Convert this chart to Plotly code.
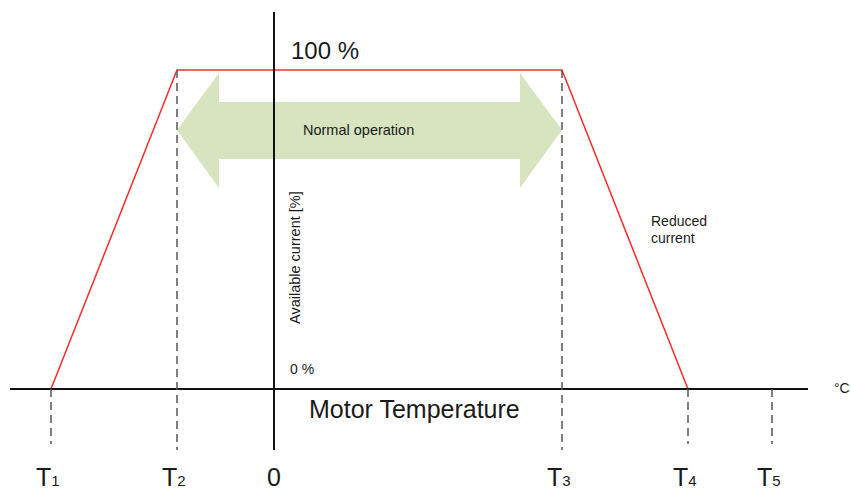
import plotly.graph_objects as go

# Data (schematic units: temperature axis, available current in %)
t_names = ["T", "T", "T", "T", "T"]
t_subs = ["1", "2", "3", "4", "5"]
t_values = [-223, -97, 288, 414, 498]
current_pct = [0, 100, 100, 0, 0]

W, H = 851, 490
X0_PX = 274           # pixel of temperature 0
Y0_PX, Y100_PX = 389, 70
ppu_y = (Y0_PX - Y100_PX) / 100.0


def py(p):  # pixel row -> y data
    return (Y0_PX - p) / ppu_y


xr = [-X0_PX, W - X0_PX]
yr = [py(H), py(0)]

FONT = "Liberation Sans, Arial, sans-serif"
TXT = "#1a1a1a"

fig = go.Figure()

# Green double arrow between T2 and T3
t2, t3 = t_values[1], t_values[2]
head = 42
yc, ys_top, ys_bot, yh_top, yh_bot = py(130), py(102), py(159), py(73), py(188)
ax = [t2, t2 + head, t2 + head, t3 - head, t3 - head, t3, t3 - head, t3 - head, t2 + head, t2 + head, t2]
ay = [yc, yh_top, ys_top, ys_top, yh_top, yc, yh_bot, ys_bot, ys_bot, yh_bot, yc]
fig.add_trace(go.Scatter(x=ax, y=ay, fill="toself", fillcolor="#d7e4bf", mode="lines",
                         line=dict(width=0, color="#d7e4bf"), hoverinfo="skip", showlegend=False))

# Axes lines
fig.add_shape(type="line", x0=-264, x1=534, y0=0, y1=0, line=dict(color="#111", width=2))
fig.add_shape(type="line", x0=0, x1=0, y0=py(450), y1=py(12), line=dict(color="#111", width=2))

# Dashed markers
for t, c in zip(t_values, current_pct):
    bottom = py(450) if c == 100 else py(444)
    fig.add_shape(type="line", x0=t, x1=t, y0=c, y1=bottom,
                  line=dict(color="#555", width=1.5, dash="8px,5px"))

# Red current curve
fig.add_trace(go.Scatter(x=t_values, y=current_pct, mode="lines",
                         line=dict(color="#ff2a2a", width=1.5), hoverinfo="skip", showlegend=False))

# T labels
ty = py(477)
for name, sub, t in zip(t_names, t_subs, t_values):
    fig.add_annotation(x=t, y=ty, xshift=-3, showarrow=False,
                       text=f"{name}<span style='font-size:15px'>{sub}</span>",
                       font=dict(family=FONT, size=25, color=TXT))
fig.add_annotation(x=0, y=ty, text="0", showarrow=False, font=dict(family=FONT, size=25, color=TXT))

fig.add_annotation(x=51, y=py(50), text="100 %", showarrow=False, font=dict(family=FONT, size=24, color=TXT))
fig.add_annotation(x=140, y=py(409), text="Motor Temperature", showarrow=False,
                   font=dict(family=FONT, size=25, color=TXT))
fig.add_annotation(x=568, y=py(388), text="°C", showarrow=False, font=dict(family=FONT, size=14, color=TXT))
fig.add_annotation(x=14, y=py(369), text="0 %", xanchor="left", showarrow=False,
                   font=dict(family=FONT, size=14, color=TXT))
fig.add_annotation(x=21, y=py(258), text="Available current [%]", showarrow=False, textangle=-90,
                   font=dict(family=FONT, size=14.5, color=TXT))
fig.add_annotation(x=84, y=py(130), text="Normal operation", showarrow=False,
                   font=dict(family=FONT, size=14.5, color=TXT))
fig.add_annotation(x=375, y=py(221), text="Reduced", showarrow=False, xanchor="left",
                   font=dict(family=FONT, size=14, color=TXT))
fig.add_annotation(x=375, y=py(238), text="current", showarrow=False, xanchor="left",
                   font=dict(family=FONT, size=14, color=TXT))

fig.update_layout(
    width=W, height=H, margin=dict(l=0, r=0, t=0, b=0),
    paper_bgcolor="white", plot_bgcolor="white",
    xaxis=dict(range=xr, visible=False, fixedrange=True),
    yaxis=dict(range=yr, visible=False, fixedrange=True),
    showlegend=False,
)

fig.write_html("out.html", config={"displayModeBar": False},
               post_script="document.body.style.margin='0';document.body.style.overflow='hidden';")
